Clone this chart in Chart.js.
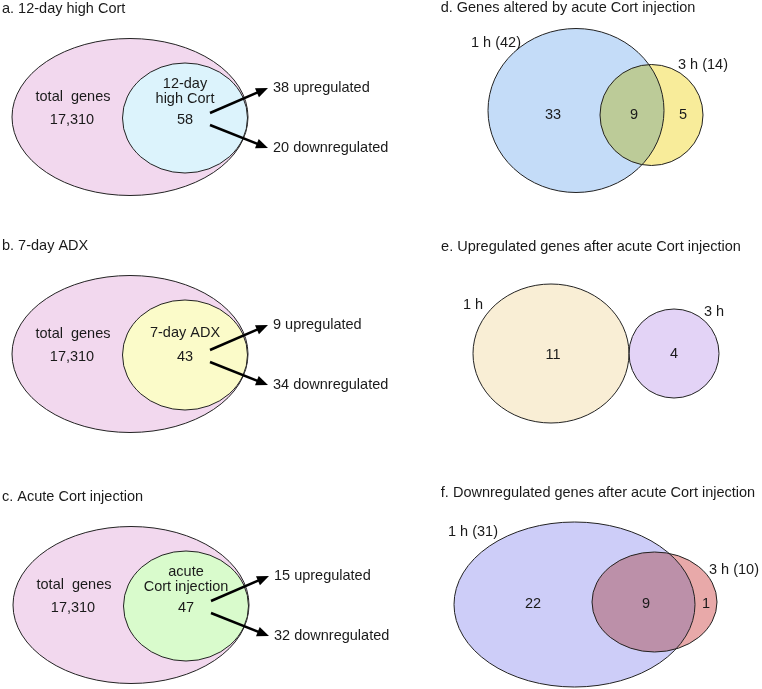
<!DOCTYPE html>
<html>
<head>
<meta charset="utf-8">
<script src="https://cdn.jsdelivr.net/npm/chart.js@4.4.0/dist/chart.umd.min.js"></script>
<style>
    html, body { margin: 0; padding: 0; background: #ffffff; }
    #wrap { width: 762px; height: 689px; }
</style>
</head>
<body>
<div id="wrap"><canvas id="venn" width="762" height="689"></canvas></div>
<script>
// ---- data ----
const panelTitles = [
    'a. 12-day high Cort',
    'b. 7-day ADX',
    'c. Acute Cort injection',
    'd. Genes altered by acute Cort injection',
    'e. Upregulated genes after acute Cort injection',
    'f. Downregulated genes after acute Cort injection'
];
const totalGenes = 17310;
const treatmentNames = [['12-day', 'high Cort'], ['7-day ADX'], ['acute', 'Cort injection']];
const treatmentTotals = [58, 43, 47];
const upregulated = [38, 9, 15];
const downregulated = [20, 34, 32];

const timeLabels = ['1 h', '3 h'];
const onlyOneHour = [33, 11, 22];
const bothTimes = [9, 0, 9];
const onlyThreeHour = [5, 4, 1];
const showTimeCounts = [true, false, true];

// ---- layout (diagram units, same as the scales) ----
const leftLayout = [
    { y0: 0,   dx: 0, inner: '#dcf3fc' },
    { y0: 237, dx: 0, inner: '#fbfbc9' },
    { y0: 488, dx: 1, inner: '#d9fbcc' }
];
const rightLayout = [
    {
        title: [568, 8],
        big: [576, 110.5, 88, 82], small: [651.5, 115, 51.5, 50.5],
        bigColor: '#c4dcf8', smallColor: '#f8ec9a', overlapColor: '#bccb98',
        bigLabel: [496, 43], smallLabel: [703, 65],
        nums: [[553, 115], [634, 115], [683, 115]]
    },
    {
        title: [591, 247],
        big: [551, 353.5, 78, 69.5], small: [674, 353.5, 45, 44.5],
        bigColor: '#f9eed5', smallColor: '#e3d3f6', overlapColor: null,
        bigLabel: [473, 305], smallLabel: [714, 312],
        nums: [[553, 355], null, [674, 354]]
    },
    {
        title: [598, 493],
        big: [574.5, 604.5, 120.5, 82.5], small: [654.5, 602, 62.5, 50],
        bigColor: '#cdcdf8', smallColor: '#e8a9a9', overlapColor: '#bc90a9',
        bigLabel: [473, 532], smallLabel: [734, 570],
        nums: [[533, 604], [646, 604], [706, 604]]
    }
];

const FONT = '14.5px "Liberation Sans", Arial, sans-serif';
const TEXT_COLOR = '#1a1a1a';
const LINE_COLOR = '#222222';

// ---- drawing plugin ----
const vennPlugin = {
    id: 'venn',
    afterDraw(chart) {
        const ctx = chart.ctx;
        const xs = chart.scales.x;
        const ys = chart.scales.y;
        const px = v => xs.getPixelForValue(v);
        const py = v => ys.getPixelForValue(v);

        function ellipsePath(e) {
            const cx = px(e[0]), cy = py(e[1]);
            const rx = Math.abs(px(e[0] + e[2]) - cx);
            const ry = Math.abs(py(e[1] + e[3]) - cy);
            ctx.beginPath();
            ctx.ellipse(cx, cy, rx, ry, 0, 0, Math.PI * 2);
        }
        function fillEllipse(e, color) {
            ellipsePath(e);
            ctx.fillStyle = color;
            ctx.fill();
        }
        function strokeEllipse(e) {
            ellipsePath(e);
            ctx.strokeStyle = LINE_COLOR;
            ctx.lineWidth = 1;
            ctx.stroke();
        }
        function text(str, x, y, align) {
            ctx.font = FONT;
            ctx.fillStyle = TEXT_COLOR;
            ctx.textAlign = align || 'center';
            ctx.textBaseline = 'middle';
            ctx.fillText(str, px(x), py(y));
        }
        function arrow(x1, y1, x2, y2) {
            const ax = px(x1), ay = py(y1), bx = px(x2), by = py(y2);
            const ang = Math.atan2(by - ay, bx - ax);
            const head = 12, half = 5;
            ctx.strokeStyle = '#000';
            ctx.lineWidth = 2.5;
            ctx.beginPath();
            ctx.moveTo(ax, ay);
            ctx.lineTo(bx - Math.cos(ang) * (head - 2), by - Math.sin(ang) * (head - 2));
            ctx.stroke();
            ctx.fillStyle = '#000';
            ctx.beginPath();
            ctx.moveTo(bx, by);
            ctx.lineTo(bx - Math.cos(ang) * head - Math.sin(ang) * half,
                       by - Math.sin(ang) * head + Math.cos(ang) * half);
            ctx.lineTo(bx - Math.cos(ang) * head + Math.sin(ang) * half,
                       by - Math.sin(ang) * head - Math.cos(ang) * half);
            ctx.closePath();
            ctx.fill();
        }

        ctx.save();

        // left column: total genes with treatment subset
        leftLayout.forEach((L, i) => {
            const y0 = L.y0, dx = L.dx;
            const outer = [130 + dx, 117 + y0, 118, 78.5];
            const inner = [185 + dx, 118 + y0, 62.5, 55];
            text(panelTitles[i], 2, 9 + y0, 'left');
            fillEllipse(outer, '#f2d8ee');
            strokeEllipse(outer);
            fillEllipse(inner, L.inner);
            strokeEllipse(inner);

            text('total  genes', 73 + dx, 97 + y0);
            text(totalGenes.toLocaleString('en-US'), 72 + dx, 120 + y0);

            const names = treatmentNames[i];
            const startY = names.length > 1 ? 84 : 96;
            names.forEach((n, k) => text(n, 185 + dx, startY + k * 15 + y0));
            text(String(treatmentTotals[i]), 185 + dx, 120 + y0);

            arrow(210 + dx, 113 + y0, 268 + dx, 88 + y0);
            arrow(210 + dx, 125 + y0, 268 + dx, 148 + y0);
            text(upregulated[i] + ' upregulated', 273 + dx, 88 + y0, 'left');
            text(downregulated[i] + ' downregulated', 273 + dx, 148 + y0, 'left');
        });

        // right column: 1 h vs 3 h
        rightLayout.forEach((R, j) => {
            text(panelTitles[3 + j], R.title[0], R.title[1]);
            fillEllipse(R.big, R.bigColor);
            fillEllipse(R.small, R.smallColor);
            if (R.overlapColor) {
                ctx.save();
                ellipsePath(R.big);
                ctx.clip();
                fillEllipse(R.small, R.overlapColor);
                ctx.restore();
            }
            strokeEllipse(R.big);
            strokeEllipse(R.small);

            const totalOne = onlyOneHour[j] + bothTimes[j];
            const totalThree = onlyThreeHour[j] + bothTimes[j];
            const l1 = showTimeCounts[j] ? timeLabels[0] + ' (' + totalOne + ')' : timeLabels[0];
            const l3 = showTimeCounts[j] ? timeLabels[1] + ' (' + totalThree + ')' : timeLabels[1];
            text(l1, R.bigLabel[0], R.bigLabel[1]);
            text(l3, R.smallLabel[0], R.smallLabel[1]);

            const vals = [onlyOneHour[j], bothTimes[j], onlyThreeHour[j]];
            R.nums.forEach((p, k) => {
                if (p) text(String(vals[k]), p[0], p[1]);
            });
        });

        ctx.restore();
    }
};

new Chart(document.getElementById('venn'), {
    type: 'scatter',
    data: { datasets: [{ data: [], pointRadius: 0 }] },
    options: {
        responsive: false,
        animation: false,
        devicePixelRatio: 1,
        layout: { padding: 0 },
        plugins: { legend: { display: false }, tooltip: { enabled: false } },
        scales: {
            x: { type: 'linear', min: 0, max: 762, display: false },
            y: { type: 'linear', min: 0, max: 689, reverse: true, display: false }
        }
    },
    plugins: [vennPlugin]
});
</script>
</body>
</html>
